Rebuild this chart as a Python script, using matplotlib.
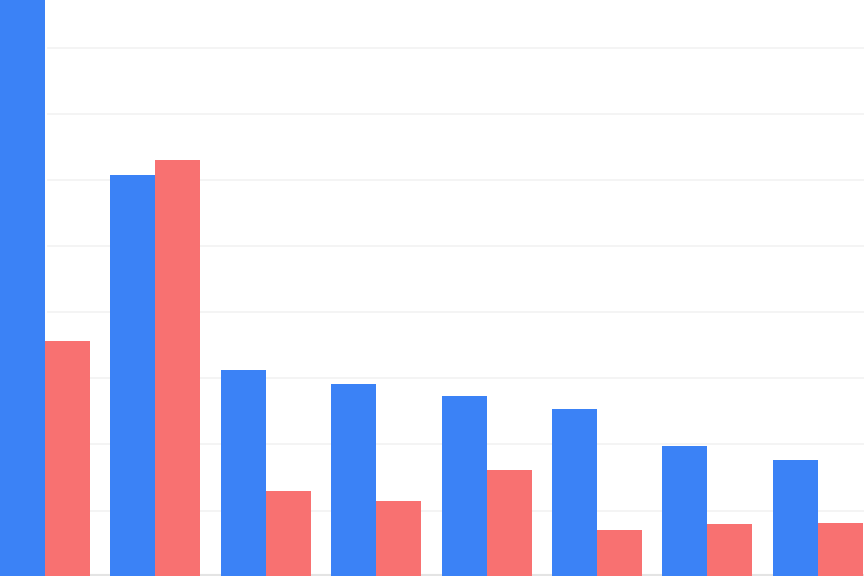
import numpy as np
import matplotlib
matplotlib.use("Agg")
import matplotlib.pyplot as plt

# values (one grid step = 1 unit)
categories = ["A", "B", "C", "D", "E", "F", "G", "H"]
serie_azul = [9.5, 6.08, 3.13, 2.92, 2.73, 2.54, 1.97, 1.76]
serie_roja = [3.56, 6.30, 1.30, 1.15, 1.62, 0.70, 0.80, 0.81]
grid_vals = [1, 2, 3, 4, 5, 6, 7, 8]


def main():
    fig = plt.figure(figsize=(8.64, 5.76), dpi=100)
    ax = fig.add_axes([0, 0, 1, 1])

    x = np.arange(len(categories))
    ancho = 0.408

    # grid lines (they start a bit right of the first bar)
    for g in grid_vals:
        ax.axhline(g, xmin=48 / 864, xmax=1, color="#f2f2f2", linewidth=1.2, zorder=0)
    ax.axhline(0.02, color="#e4e4e4", linewidth=1.5, zorder=0)

    ax.bar(x - ancho / 2, serie_azul, width=ancho, color="#3b82f6", zorder=2)
    ax.bar(x + ancho / 2, serie_roja, width=ancho, color="#f87171", zorder=2)

    ax.set_xlim(-0.408, -0.408 + 864 / 110.4)
    ax.set_ylim(0.01, 8.725)
    ax.axis("off")

    fig.savefig("out.png", dpi=100, facecolor="white")


if __name__ == "__main__":
    main()
